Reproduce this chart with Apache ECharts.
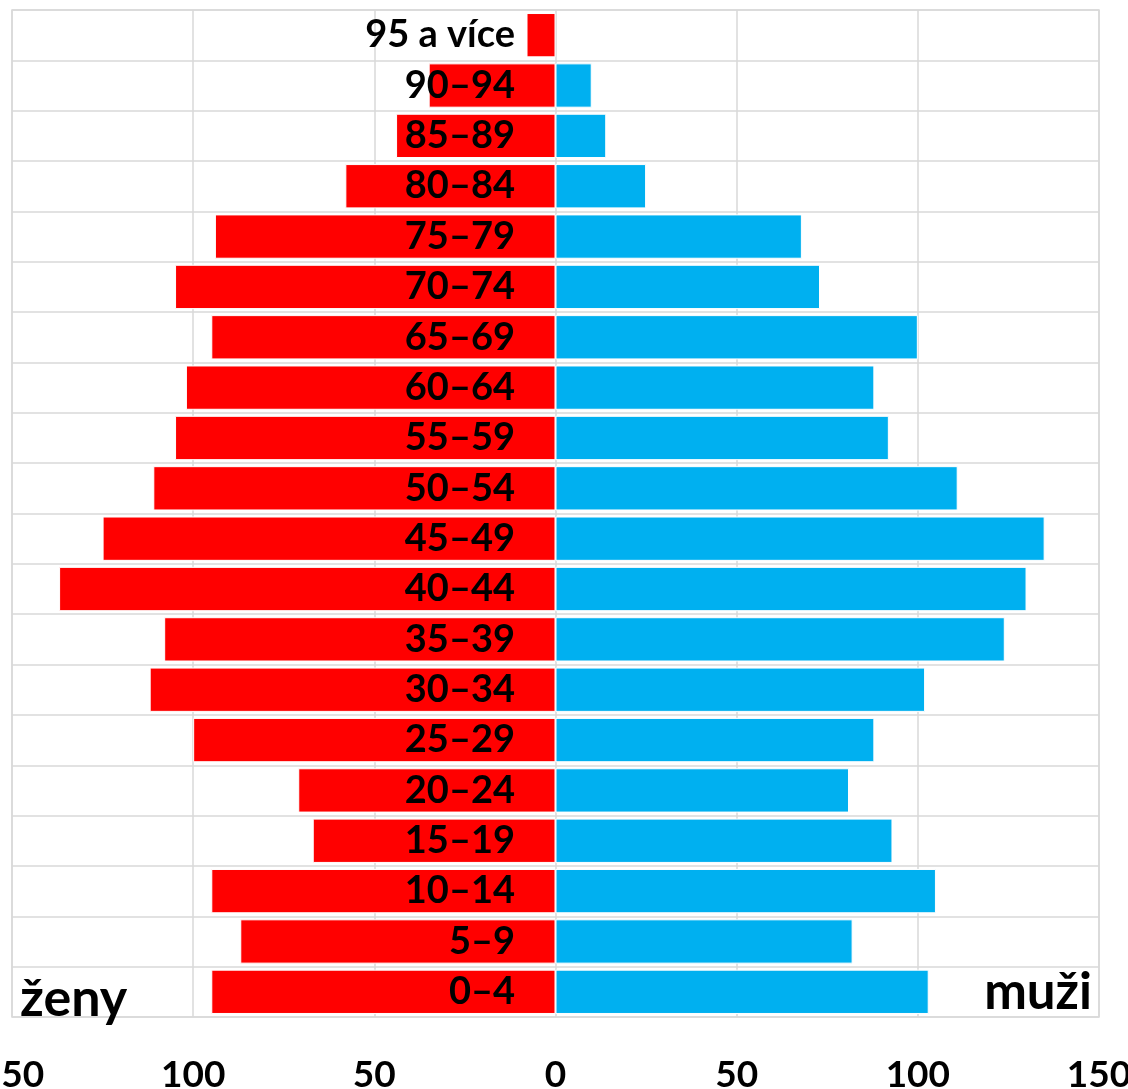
<!DOCTYPE html>
<html>
<head>
<meta charset="utf-8">
<script src="https://cdn.jsdelivr.net/npm/echarts@6/dist/echarts.min.js"></script>
<style>html,body{margin:0;padding:0;background:#fff;}#c{width:1128px;height:1089px;}</style>
</head>
<body>
<div id="c"></div>
<script>
const categories = ['0–4','5–9','10–14','15–19','20–24','25–29','30–34','35–39','40–44','45–49','50–54','55–59','60–64','65–69','70–74','75–79','80–84','85–89','90–94','95 a více'];
const women = [95, 87, 95, 67, 71, 100, 112, 108, 137, 125, 111, 105, 102, 95, 105, 94, 58, 44, 35, 8];
const men = [103, 82, 105, 93, 81, 88, 102, 124, 130, 135, 111, 92, 88, 100, 73, 68, 25, 14, 10, 0];
const leftLabel = 'ženy';
const rightLabel = 'muži';

const chart = echarts.init(document.getElementById('c'));
const font = 'Lato';
chart.setOption({
  animation: false,
  grid: {left: 12, right: 29, top: 10, bottom: 72, containLabel: false, outerBoundsMode: 'none',
         show: true, borderColor: '#d9d9d9', borderWidth: 1.5},
  xAxis: {
    type: 'value', min: -150, max: 150, interval: 50,
    axisLine: {show: false}, axisTick: {show: false},
    splitLine: {show: true, lineStyle: {color: '#d9d9d9', width: 1.5}},
    axisLabel: {
      formatter: v => String(Math.abs(v)),
      color: '#000', fontFamily: font, fontWeight: 'bold', fontSize: 37, margin: 40,
      showMinLabel: true, showMaxLabel: true, hideOverlap: false
    }
  },
  yAxis: {
    type: 'category', data: categories, z: 10,
    axisLine: {show: false, onZero: false}, axisTick: {show: false},
    splitLine: {show: true, lineStyle: {color: '#d9d9d9', width: 1.5}},
    axisLabel: {interval: 0, color: '#000', fontFamily: font, fontWeight: 'bold', fontSize: 38, margin: -503, hideOverlap: false}
  },
  series: [
    {type: 'bar', stack: 'p', data: women.map(v => -v), barCategoryGap: '12%',
     itemStyle: {color: '#ff0000', borderColor: '#fff', borderWidth: 1}},
    {type: 'bar', stack: 'p', data: men,
     itemStyle: {color: '#00b0f0', borderColor: '#fff', borderWidth: 1}}
  ],
  graphic: [
    {type: 'text', left: 20, top: 973, z: 20, style: {text: leftLabel, fill: '#000', font: 'bold 52px Lato'}},
    {type: 'text', right: 36, top: 967, z: 20, style: {text: rightLabel, fill: '#000', font: 'bold 51px Lato'}}
  ]
});
</script>
</body>
</html>
